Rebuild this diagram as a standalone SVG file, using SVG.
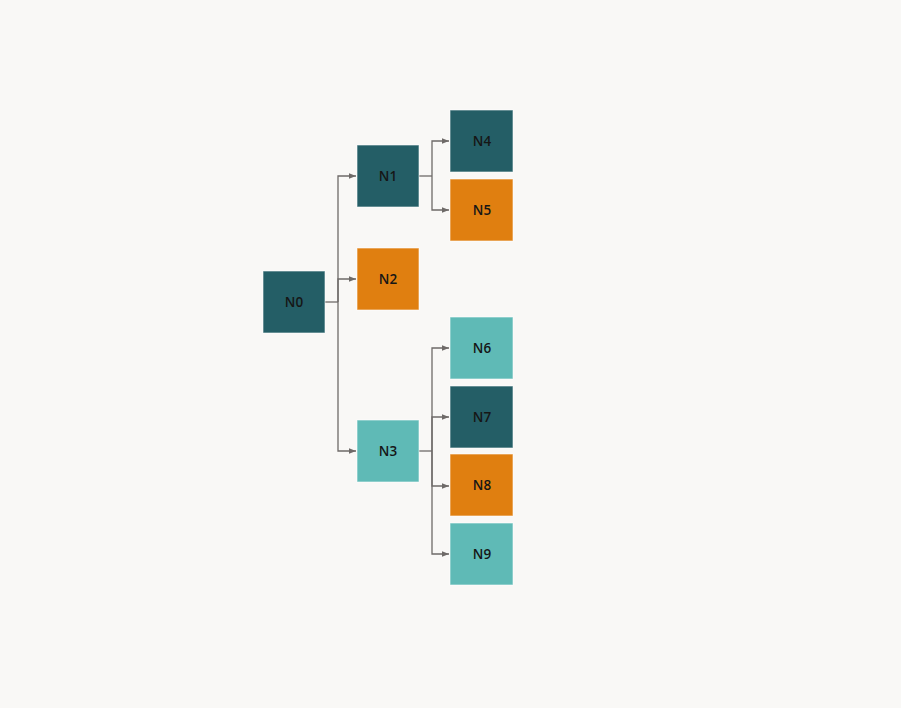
<svg xmlns="http://www.w3.org/2000/svg" width="901" height="708" viewBox="0 0 901 708">
<defs>
<style>
.n rect{stroke:#ffffff;stroke-opacity:0.6;stroke-width:1}
.d rect{fill:#245E66}
.o rect{fill:#E07F10}
.l rect{fill:#5FBAB6}
.n text{font-family:"Open Sans","Noto Sans",sans-serif;font-size:13.5px;font-weight:600;fill:#161616;text-anchor:middle;dominant-baseline:central}
.e path{fill:none;stroke:#6e6a68;stroke-width:1.3}
</style>
<marker id="a" viewBox="0 0 10 10" refX="10" refY="5" markerWidth="7" markerHeight="7" markerUnits="userSpaceOnUse" orient="auto"><path d="M0,1 L10,5 L0,9 z" fill="#6e6a68"/></marker>
</defs>
<rect width="901" height="708" fill="#F9F8F6"/>
<g id="connectors" class="e">
<path d="M325,302 H338"/>
<path d="M338,302 V176 H356" marker-end="url(#a)"/>
<path d="M338,302 V279 H356" marker-end="url(#a)"/>
<path d="M338,302 V451 H356" marker-end="url(#a)"/>
<path d="M419,176 H432"/>
<path d="M432,176 V141 H449" marker-end="url(#a)"/>
<path d="M432,176 V210 H449" marker-end="url(#a)"/>
<path d="M419,451 H432"/>
<path d="M432,451 V348 H449" marker-end="url(#a)"/>
<path d="M432,451 V417 H449" marker-end="url(#a)"/>
<path d="M432,451 V486 H449" marker-end="url(#a)"/>
<path d="M432,451 V554 H449" marker-end="url(#a)"/>
</g>
<g id="N0" class="n d"><rect x="263" y="271" width="62" height="62"/><text x="294" y="302">N0</text></g>
<g id="N1" class="n d"><rect x="357" y="145" width="62" height="62"/><text x="388" y="176">N1</text></g>
<g id="N2" class="n o"><rect x="357" y="248" width="62" height="62"/><text x="388" y="279">N2</text></g>
<g id="N3" class="n l"><rect x="357" y="420" width="62" height="62"/><text x="388" y="451">N3</text></g>
<g id="N4" class="n d"><rect x="450" y="110" width="63" height="62"/><text x="482" y="141">N4</text></g>
<g id="N5" class="n o"><rect x="450" y="179" width="63" height="62"/><text x="482" y="210">N5</text></g>
<g id="N6" class="n l"><rect x="450" y="317" width="63" height="62"/><text x="482" y="348">N6</text></g>
<g id="N7" class="n d"><rect x="450" y="386" width="63" height="62"/><text x="482" y="417">N7</text></g>
<g id="N8" class="n o"><rect x="450" y="454" width="63" height="62"/><text x="482" y="485">N8</text></g>
<g id="N9" class="n l"><rect x="450" y="523" width="63" height="62"/><text x="482" y="554">N9</text></g>
</svg>
